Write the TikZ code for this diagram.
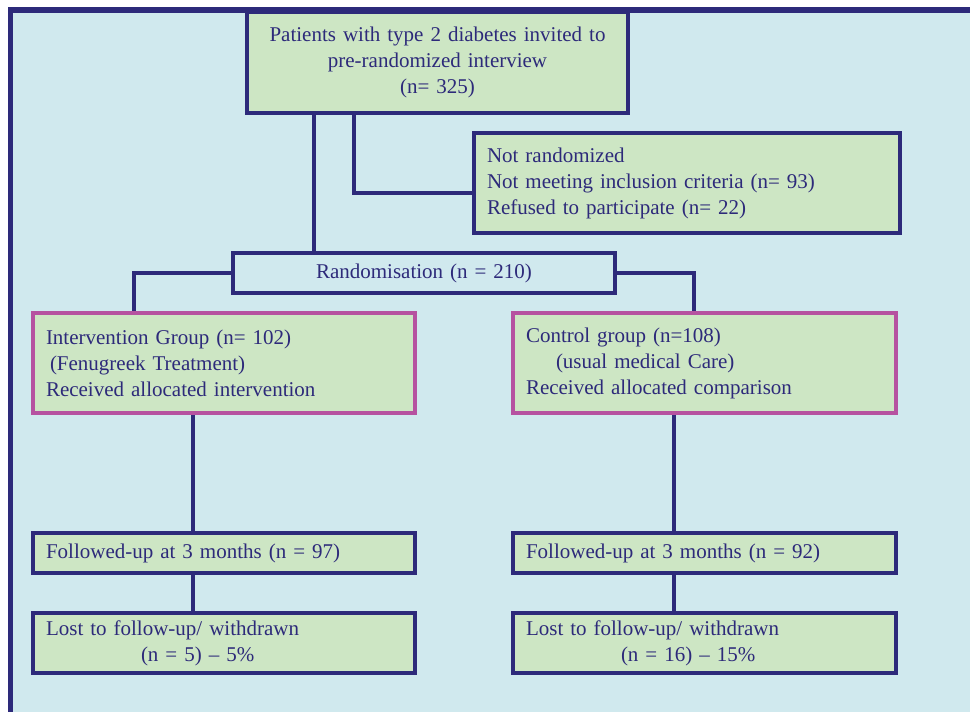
\documentclass[tikz,border=0pt]{standalone}
\usepackage{fontspec}
\setmainfont{Liberation Serif}
\definecolor{navy}{RGB}{45,42,122}
\definecolor{sky}{RGB}{208,233,238}
\definecolor{leaf}{RGB}{205,230,196}
\definecolor{orchid}{RGB}{182,82,160}
\begin{document}
\begin{tikzpicture}[x=1pt,y=-1pt,
  font=\fontsize{21}{26}\selectfont,text=navy,
  box/.style={draw=navy,line width=3.5pt,fill=leaf,inner xsep=13pt,inner ysep=0pt},
  grp/.style={box,draw=orchid},
  link/.style={draw=navy,line width=3.5pt}]
  \useasboundingbox (0,0) rectangle (970,712);
  % frame
  \fill[sky] (10,10) rectangle (970,712);
  \draw[navy,line width=5.5pt] (10.5,712) -- (10.5,10) -- (970,10);
  % boxes
  \node[box,text width=355pt,align=center,minimum height=101pt] (invite) at (437.5,62.5)
    {Patients with type 2 diabetes invited to\\pre-randomized interview\\(n= 325)};
  \node[box,text width=400pt,align=left,minimum height=100pt] (excl) at (687,183)
    {Not randomized\\Not meeting inclusion criteria (n= 93)\\Refused to participate (n= 22)};
  \node[box,fill=sky,text width=356pt,align=center,minimum height=40pt] (rand) at (424,273)
    {Randomisation (n = 210)};
  \node[grp,text width=356pt,align=left,minimum height=100pt] (interv) at (224,363)
    {Intervention Group (n= 102)\\\hspace*{4pt}(Fenugreek Treatment)\\Received allocated intervention};
  \node[grp,text width=357pt,align=left,minimum height=100pt] (ctrl) at (704.5,363)
    {Control group (n=108)\\\hspace*{30pt}(usual medical Care)\\Received allocated comparison};
  \node[box,text width=356pt,align=left,minimum height=40pt] (fol1) at (224,553)
    {Followed-up at 3 months (n = 97)};
  \node[box,text width=357pt,align=left,minimum height=40pt] (fol2) at (704.5,553)
    {Followed-up at 3 months (n = 92)};
  \node[box,text width=356pt,align=left,minimum height=60pt] (lost1) at (224,643)
    {Lost to follow-up/ withdrawn\\\hspace*{95pt}(n = 5) -- 5\%};
  \node[box,text width=357pt,align=left,minimum height=60pt] (lost2) at (704.5,643)
    {Lost to follow-up/ withdrawn\\\hspace*{95pt}(n = 16) -- 15\%};
  % connectors
  \coordinate (trunk) at (314,0);
  \coordinate (side) at (354,0);
  \coordinate (lb) at (134,0);
  \coordinate (rb) at (694,0);
  \coordinate (ld) at (193,0);
  \coordinate (rd) at (674,0);
  \draw[link] (invite.south -| trunk) -- (rand.north -| trunk);
  \draw[link] (invite.south -| side) |- ([yshift=-10pt]excl.west);
  \draw[link] (rand.west) -| (interv.north -| lb);
  \draw[link] (rand.east) -| (ctrl.north -| rb);
  \draw[link] (interv.south -| ld) -- (fol1.north -| ld);
  \draw[link] (fol1.south -| ld) -- (lost1.north -| ld);
  \draw[link] (ctrl.south -| rd) -- (fol2.north -| rd);
  \draw[link] (fol2.south -| rd) -- (lost2.north -| rd);
\end{tikzpicture}
\end{document}
